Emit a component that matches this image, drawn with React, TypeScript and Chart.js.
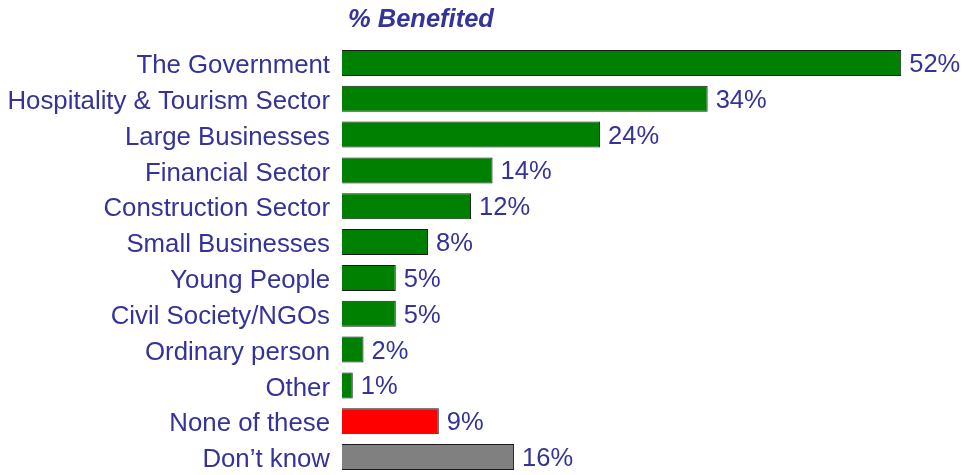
import React, { useEffect, useRef } from "react";
import { Chart, registerables } from "chart.js";

Chart.register(...registerables);

const categories = [
  "The Government",
  "Hospitality & Tourism Sector",
  "Large Businesses",
  "Financial Sector",
  "Construction Sector",
  "Small Businesses",
  "Young People",
  "Civil Society/NGOs",
  "Ordinary person",
  "Other",
  "None of these",
  "Don\u2019t know",
];
const values = [52, 34, 24, 14, 12, 8, 5, 5, 2, 1, 9, 16];
const barColors = [
  "#008000", "#008000", "#008000", "#008000", "#008000", "#008000",
  "#008000", "#008000", "#008000", "#008000", "#ff0000", "#808080",
];
const titleText = "% Benefited";

const TEXT_COLOR = "#333399";
const FONT_FAMILY = "'Liberation Sans', Arial, sans-serif";

export default function App() {
  const ref = useRef<HTMLCanvasElement | null>(null);

  useEffect(() => {
    if (!ref.current) return;
    const valueLabels = {
      id: "valueLabels",
      afterDatasetsDraw(chart: any) {
        const ctx = chart.ctx;
        const meta = chart.getDatasetMeta(0);
        ctx.save();
        ctx.fillStyle = TEXT_COLOR;
        ctx.font = `25.5px ${FONT_FAMILY}`;
        ctx.textAlign = "left";
        ctx.textBaseline = "middle";
        meta.data.forEach((bar: any, i: number) => {
          ctx.fillText(`${values[i]}%`, bar.x + 8, bar.y + 2);
        });
        ctx.restore();
      },
    };
    const titlePlugin = {
      id: "customTitle",
      afterDraw(chart: any) {
        const ctx = chart.ctx;
        ctx.save();
        ctx.fillStyle = TEXT_COLOR;
        ctx.font = `italic bold 25.5px ${FONT_FAMILY}`;
        ctx.textAlign = "left";
        ctx.textBaseline = "middle";
        ctx.fillText(titleText, chart.chartArea.left + 6, 20);
        ctx.restore();
      },
    };
    const chart = new Chart(ref.current, {
      type: "bar",
      data: {
        labels: categories,
        datasets: [
          {
            data: values,
            backgroundColor: barColors,
            borderColor: "#1a1a1a",
            borderWidth: 1,
            barPercentage: 0.726,
            categoryPercentage: 1,
          },
        ],
      },
      options: {
        indexAxis: "y",
        animation: false,
        responsive: false,
        layout: { padding: { top: 45, right: 10, bottom: 0, left: 0 } },
        plugins: {
          legend: { display: false },
          title: { display: false },
          tooltip: { enabled: false },
        },
        scales: {
          x: {
            display: false,
            min: 0,
            max: 57,
          },
          y: {
            grid: { display: false, drawTicks: false },
            border: { display: false },
            afterFit(scale: any) {
              scale.width = 342;
              scale.paddingTop = 0;
              scale.paddingBottom = 0;
            },
            ticks: {
              padding: 12,
              labelOffset: 3,
              color: TEXT_COLOR,
              font: { family: FONT_FAMILY, size: 25.8 },
              autoSkip: false,
            },
          },
        },
      },
      plugins: [valueLabels, titlePlugin],
    });
    return () => chart.destroy();
  }, []);

  return (
    <div style={{ position: "fixed", left: 0, top: 0, width: 965, height: 475, background: "#fff" }}>
      <canvas ref={ref} width={965} height={475} style={{ display: "block" }} />
    </div>
  );
}
